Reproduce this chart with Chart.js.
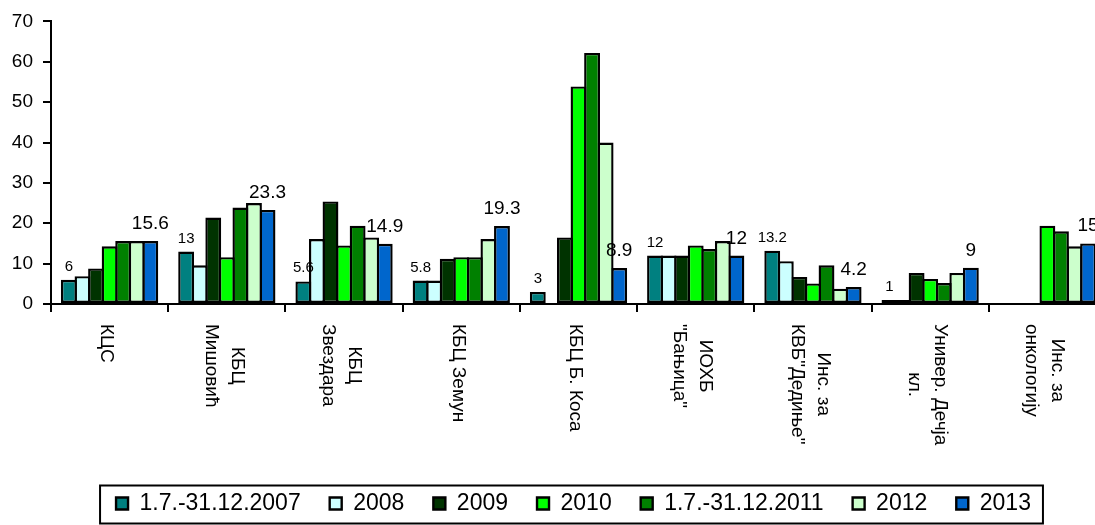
<!DOCTYPE html>
<html>
<head>
<meta charset="utf-8">
<script src="https://cdn.jsdelivr.net/npm/chart.js@4/dist/chart.umd.min.js"></script>
<style>
  html, body { margin: 0; padding: 0; background: #fff; overflow: hidden; }
  #wrap { width: 1110px; height: 525px; }
</style>
</head>
<body>
<div id="wrap"><canvas id="chart" width="1110" height="525"></canvas></div>
<script>
// Categories (hospitals), line breaks as in the original axis labels
const categories = [
    'КЦС',
    'КБЦ\nМишовић',
    'КБЦ\nЗвездара',
    'КБЦ Земун',
    'КБЦ Б. Коса',
    'ИОХБ\n"Бањица"',
    'Инс. за\nКВБ"Дедиње"',
    'Универ. Дечја\nкл.',
    'Инс. за\nонкологију'
];

const seriesNames = ['1.7.-31.12.2007', '2008', '2009', '2010', '1.7.-31.12.2011', '2012', '2013'];

const values2007 = [6, 13, 5.6, 5.8, 3, 12, 13.2, 1, null];
const values2008 = [6.9, 9.6, 16.1, 5.8, null, 12, 10.6, 1, null];
const values2009 = [8.8, 21.4, 25.4, 11.2, 16.5, 12, 6.7, 7.7, null];
const values2010 = [14.3, 11.6, 14.5, 11.6, 53.9, 14.5, 5.1, 6.2, 19.4];
const values2011 = [15.6, 23.9, 19.4, 11.6, 62.2, 13.6, 9.6, 5.2, 18];
const values2012 = [15.6, 25, 16.5, 16.1, 40, 15.6, 3.8, 7.7, 14.3];
const values2013 = [15.6, 23.3, 14.9, 19.3, 8.9, 12, 4.2, 9, 15];

const yTicks = [0, 10, 20, 30, 40, 50, 60, 70];

const seriesColors = ['#008080', '#ccffff', '#003300', '#00ff00', '#008000', '#ccffcc', '#0066cc'];
const allValues = [values2007, values2008, values2009, values2010, values2011, values2012, values2013];

const FONT = '"Liberation Sans", Arial, sans-serif';

// value labels on the first and last series, category labels rotated clockwise, legend frame
const extras = {
    id: 'extras',
    afterLayout(chart) {
        chart.legend.left -= 5;
        chart.legend.right -= 5;
    },
    afterDatasetsDraw(chart) {
        const ctx = chart.ctx;
        ctx.save();
        ctx.fillStyle = '#000';
        ctx.textAlign = 'center';
        ctx.textBaseline = 'alphabetic';
        [[0, 15, 9], [6, 19, 12]].forEach(([di, size, gap]) => {
            const meta = chart.getDatasetMeta(di);
            ctx.font = size + 'px ' + FONT;
            meta.data.forEach((bar, i) => {
                const v = chart.data.datasets[di].data[i];
                if (v === null) return;
                ctx.fillText(String(v), bar.x, bar.y - gap);
            });
        });
        ctx.restore();
    },
    afterDraw(chart) {
        const ctx = chart.ctx;
        const x = chart.scales.x;
        ctx.save();
        ctx.fillStyle = '#000';
        ctx.font = '19px ' + FONT;
        ctx.textAlign = 'center';
        ctx.textBaseline = 'middle';
        categories.forEach((label, i) => {
            const lines = label.split('\n');
            const len = Math.max(...lines.map(l => ctx.measureText(l).width));
            const cx = x.getPixelForValue(i) - 3;
            ctx.save();
            ctx.translate(cx, x.top + 20);
            ctx.rotate(Math.PI / 2);
            lines.forEach((l, j) => {
                ctx.fillText(l, len / 2, (j - (lines.length - 1) / 2) * 26);
            });
            ctx.restore();
        });

        // frame around the legend
        const boxes = chart.legend.legendHitBoxes;
        if (boxes && boxes.length) {
            const first = boxes[0];
            const last = boxes[boxes.length - 1];
            const mid = first.top + first.height / 2;
            ctx.strokeStyle = '#000';
            ctx.lineWidth = 2;
            ctx.strokeRect(first.left - 16, mid - 18, last.left + last.width + 28 - first.left, 38);
        }
        ctx.restore();
    }
};

const ctx = document.getElementById('chart').getContext('2d');
Chart.defaults.color = '#000';
Chart.defaults.font.family = FONT;

const chart = new Chart(ctx, {
    type: 'bar',
    data: {
        labels: categories,
        datasets: seriesNames.map((name, i) => ({
            label: name,
            data: allValues[i],
            backgroundColor: seriesColors[i],
            borderColor: '#000',
            borderWidth: 2.4,
            borderSkipped: false,
            inflateAmount: 0,
            categoryPercentage: 0.81,
            barPercentage: 1.17
        }))
    },
    options: {
        responsive: false,
        animation: false,
        layout: { padding: { left: 0, right: 4, top: 19, bottom: 0 } },
        plugins: {
            tooltip: { enabled: false },
            legend: {
                position: 'bottom',
                fullSize: false,
                labels: {
                    font: { size: 23, family: FONT },
                    boxWidth: 12,
                    boxHeight: 12,
                    padding: 29,
                    color: '#000'
                }
            }
        },
        scales: {
            x: {
                grid: { display: true, offset: true, drawOnChartArea: false, drawTicks: true, tickLength: 8, color: '#000', lineWidth: 2 },
                border: { display: true, color: '#000', width: 2 },
                ticks: { display: false },
                afterFit: s => { s.height = 159; }
            },
            y: {
                min: 0,
                max: 70,
                afterBuildTicks: s => { s.ticks = yTicks.map(v => ({ value: v })); },
                grid: { drawOnChartArea: false, drawTicks: true, tickLength: 8, color: '#000', lineWidth: 2 },
                border: { display: true, color: '#000', width: 2 },
                ticks: { font: { size: 19, family: FONT }, color: '#000', padding: 10 },
                afterFit: s => { s.width = 51; }
            }
        }
    },
    plugins: [extras]
});
</script>
</body>
</html>
